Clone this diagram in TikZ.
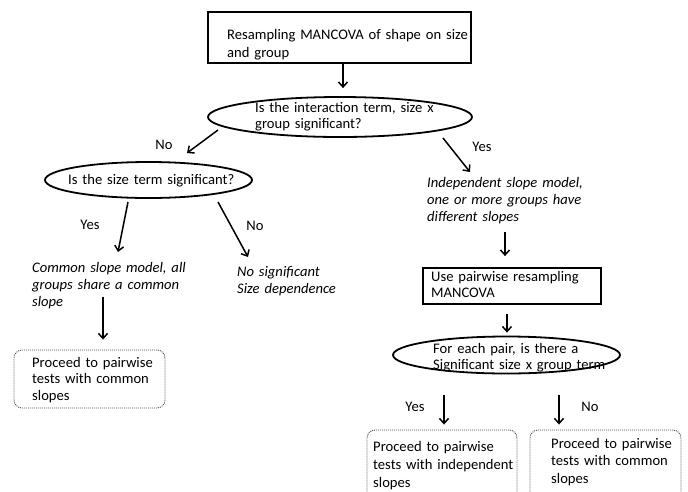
\documentclass[tikz,border=0pt]{standalone}
\usepackage{fontspec}
\setmainfont{Carlito}
\usetikzlibrary{arrows.meta,shapes.geometric,calc}
\begin{document}
\begin{tikzpicture}[x=1pt,y=-1pt,
  every node/.style={font=\fontsize{14.6}{17}\selectfont},
  sbox/.style={draw, line width=1.8pt, minimum width=#1, inner sep=0pt},
  ell/.style={draw, ellipse, line width=1.8pt, inner sep=0pt},
  dbox/.style={draw=black!70, line width=0.9pt, dash pattern=on 1pt off 1pt, rounded corners=8pt, inner sep=0pt},
  txt/.style={anchor=base west, inner sep=0pt, text width=260pt, align=left},
  itxt/.style={txt, font=\fontsize{14.6}{17}\selectfont\itshape},
  lbl/.style={inner sep=0pt},
  arr/.style={line width=1.5pt, -{Straight Barb[length=5pt,width=9pt]}}]
\useasboundingbox (0,0) rectangle (688,491);
\clip (0,0) rectangle (688,491);
% shapes
\node[sbox=263pt, minimum height=51pt] (top) at (339.5,37.5) {};
\node[ell, minimum width=264pt, minimum height=40pt] (e1) at (340,117) {};
\node[ell, minimum width=207pt, minimum height=36pt] (e2) at (148.5,180) {};
\node[sbox=178pt, minimum height=36pt] (b2) at (512,286) {};
\node[ell, minimum width=227pt, minimum height=37pt] (e3) at (506.5,355) {};
\node[dbox, minimum width=151pt, minimum height=58pt] (d1) at (89.5,379) {};
\node[dbox, minimum width=150pt, minimum height=80pt] (d2) at (442,470) {};
\node[dbox, minimum width=151pt, minimum height=80pt] (d3) at (605.5,470) {};
% texts
\node[txt, font=\fontsize{14.6}{18}\selectfont] (topT) at (227,39) {Resampling MANCOVA of shape on size\\and group};
\node[txt, font=\fontsize{14.6}{16}\selectfont] (e1T) at (255,112.5) {Is the interaction term, size x\\group significant?};
\node[txt] (e2T) at (68,184) {Is the size term significant?};
\node[itxt] (comT) at (32,272) {Common slope model, all\\groups share a common\\slope};
\node[itxt] (nosT) at (237,276) {No significant\\Size dependence};
\node[itxt] (indT) at (427,187) {Independent slope model,\\one or more groups have\\different slopes};
\node[txt, font=\fontsize{14.6}{16}\selectfont] (b2T) at (431,281) {Use pairwise resampling\\MANCOVA};
\node[txt, font=\fontsize{14.6}{16}\selectfont] (e3T) at (433,353) {For each pair, is there a\\Significant size x group term};
\node[txt, font=\fontsize{14.6}{16.5}\selectfont] (d1T) at (32,367) {Proceed to pairwise\\tests with common\\slopes};
\node[txt, font=\fontsize{14.6}{18}\selectfont] (d2T) at (373,451) {Proceed to pairwise\\tests with independent\\slopes};
\node[txt, font=\fontsize{14.6}{17.5}\selectfont] (d3T) at (551,448) {Proceed to pairwise\\tests with common\\slopes};
% labels
\node[lbl] (no1) at (164,145) {No};
\node[lbl] (yes1) at (90,225) {Yes};
\node[lbl] (no2) at (255,226) {No};
\node[lbl] (yes2) at (482,147) {Yes};
\node[lbl] (yes3) at (415,407) {Yes};
\node[lbl] (no3) at (590,407) {No};
% connectors
\draw[arr] ($(top.south)+(3.5,0)$) -- ($(e1.north)+(3,-8)$);
\draw[arr] ($(e1.center)+(-122,13)$) -- ($(e2.center)+(38.5,-27)$);
\draw[arr] ($(e2.center)+(-20.5,22)$) -- ($(e2.center)+(-30.5,72)$);
\draw[arr] ($(e2.center)+(69.5,22)$) -- ($(e2.center)+(99.5,77)$);
\draw[arr] ($(d1.north)+(13.5,-53)$) -- ($(d1.north)+(13.5,-10)$);
\draw[arr] ($(e1.center)+(103,21)$) -- ($(e1.center)+(130,55)$);
\draw[arr] ($(b2.north)+(-7,-35)$) -- ($(b2.north)+(-7,-11)$);
\draw[arr] ($(b2.south)+(-5,9)$) -- ($(e3.north)+(0.5,-3)$);
\draw[arr] ($(d2.north)+(2,-35)$) -- ($(d2.north)+(2,-5)$);
\draw[arr] ($(d3.north)+(-46.5,-35)$) -- ($(d3.north)+(-46.5,-5)$);
\end{tikzpicture}
\end{document}
